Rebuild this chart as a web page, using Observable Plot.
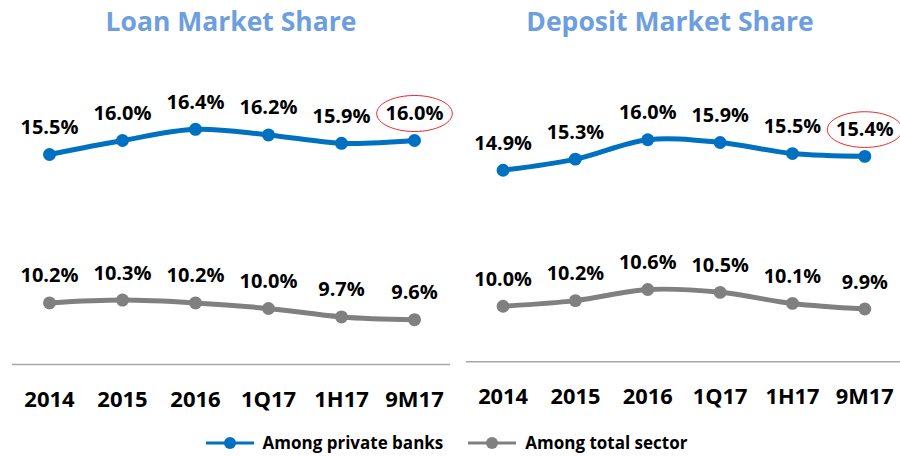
<!DOCTYPE html>
<html>
<head>
<meta charset="utf-8">
<script src="https://cdn.jsdelivr.net/npm/d3@7"></script>
<script src="https://cdn.jsdelivr.net/npm/@observablehq/plot@0.6"></script>
<style>
  html, body { margin: 0; padding: 0; background: #fff; }
  #root { position: relative; width: 900px; height: 456px; overflow: hidden; font-family: "Open Sans", sans-serif; }
  .title { position: absolute; top: 3px; width: 450px; text-align: center; font-size: 26.5px; font-weight: 700; color: #6d9fde; }
  .panel { position: absolute; top: 50px; }
  #legend { position: absolute; top: 431px; left: 0; width: 892px; display: flex; justify-content: center; gap: 24px; font-size: 17px; font-weight: 700; color: #000; }
  .item { display: flex; align-items: center; gap: 8px; }
</style>
</head>
<body>
<div id="root">
  <div class="title" style="left:6px">Loan Market Share</div>
  <div class="title" style="left:445px">Deposit Market Share</div>
  <div class="panel" id="p0" style="left:0px"></div>
  <div class="panel" id="p1" style="left:454px"></div>
  <div id="legend"></div>
</div>
<script>
const periods = ["2014", "2015", "2016", "1Q17", "1H17", "9M17"];
const seriesNames = ["Among private banks", "Among total sector"];
const seriesColors = ["#0070c0", "#808080"];
const loanPrivate = [15.5, 16.0, 16.4, 16.2, 15.9, 16.0];
const loanTotal = [10.2, 10.3, 10.2, 10.0, 9.7, 9.6];
const depositPrivate = [14.9, 15.3, 16.0, 15.9, 15.5, 15.4];
const depositTotal = [10.0, 10.2, 10.6, 10.5, 10.1, 9.9];

function rows(priv, tot) {
  const out = [];
  periods.forEach((p, i) => {
    out.push({period: p, series: seriesNames[0], value: priv[i]});
    out.push({period: p, series: seriesNames[1], value: tot[i]});
  });
  return out;
}

const ellipseSymbol = {
  draw(ctx, size) {
    const r = Math.sqrt(size / Math.PI);
    const rx = r * 2.1, ry = r;
    const k = 0.5523;
    ctx.moveTo(rx, 0);
    ctx.bezierCurveTo(rx, ry * k, rx * k, ry, 0, ry);
    ctx.bezierCurveTo(-rx * k, ry, -rx, ry * k, -rx, 0);
    ctx.bezierCurveTo(-rx, -ry * k, -rx * k, -ry, 0, -ry);
    ctx.bezierCurveTo(rx * k, -ry, rx, -ry * k, rx, 0);
    ctx.closePath();
  }
};

function panel(data) {
  const highlight = data.filter(d => d.period === periods[periods.length - 1] && d.series === seriesNames[0]);
  return Plot.plot({
    width: 450,
    height: 370,
    marginLeft: 12,
    marginRight: 0,
    marginTop: 20,
    marginBottom: 56,
    style: {fontFamily: "Open Sans, sans-serif", overflow: "visible"},
    x: {domain: periods, type: "point", padding: 0.5, label: null},
    y: {domain: [8, 18.5], axis: null},
    color: {domain: seriesNames, range: seriesColors},
    marks: [
      Plot.ruleY([8], {stroke: "#a6a6a6", strokeWidth: 1.5}),
      Plot.axisX({tickSize: 0, tickPadding: 27, fontSize: 22, fontWeight: 700, fill: "#000"}),
      Plot.line(data, {x: "period", y: "value", z: "series", stroke: "series", strokeWidth: 5, curve: "catmull-rom"}),
      Plot.dot(data, {x: "period", y: "value", fill: "series", r: 6.5}),
      Plot.text(data, {x: "period", y: "value", text: d => d.value.toFixed(1) + "%", dy: -27, fontSize: 20, fontWeight: 700, fill: "#000"}),
      Plot.dot(highlight, {x: "period", y: "value", dy: -27, symbol: ellipseSymbol, r: 18, stroke: "#e8262a", strokeWidth: 1, fill: "none"})
    ]
  });
}

document.getElementById("p0").appendChild(panel(rows(loanPrivate, loanTotal)));
document.getElementById("p1").appendChild(panel(rows(depositPrivate, depositTotal)));

const legend = document.getElementById("legend");
seriesNames.forEach((name, i) => {
  const item = document.createElement("div");
  item.className = "item";
  item.innerHTML = `<svg width="50" height="16"><line x1="1" x2="49" y1="8" y2="8" stroke="${seriesColors[i]}" stroke-width="3"/><circle cx="25" cy="8" r="6" fill="${seriesColors[i]}"/></svg><span>${name}</span>`;
  legend.appendChild(item);
});
</script>
</body>
</html>
